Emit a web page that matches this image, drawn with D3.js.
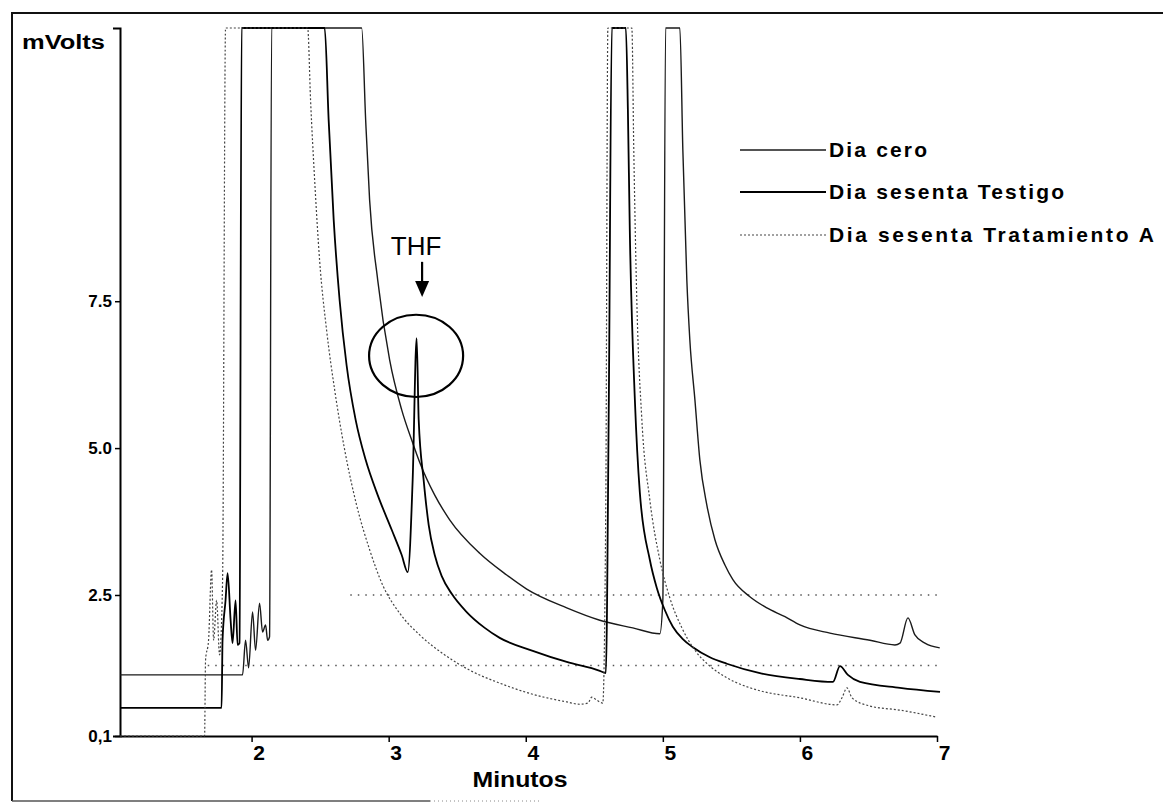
<!DOCTYPE html>
<html>
<head>
<meta charset="utf-8">
<script src="https://cdn.jsdelivr.net/npm/d3@7"></script>
<style>
  body { margin: 0; background: #fff; }
  svg { display: block; font-family: "Liberation Sans", Arial, sans-serif; }
</style>
</head>
<body>
<svg id="chart" width="1163" height="804"></svg>
<script>
// Retention time (min) and detector signal (mV) for each run.
// Off-scale solvent peaks carry values above the window and are clamped flat.
const diaCeroTime = [1.04, 1.934, 1.956, 1.978, 2.007, 2.029, 2.058, 2.080, 2.102, 2.117,
  2.131, 2.146, 2.45, 2.803, 2.832, 2.861, 2.92, 3.007, 3.095, 3.175,
  3.226, 3.336, 3.445, 3.664, 3.861, 4.007, 4.299, 4.540, 4.781, 4.978,
  5.0, 5.02, 5.07, 5.124, 5.146, 5.175, 5.197, 5.234, 5.270, 5.321,
  5.380, 5.453, 5.511, 5.635, 5.759, 5.891, 6.0, 6.219, 6.511, 6.693,
  6.73, 6.788, 6.839, 6.912, 7.02];
const diaCeroSignal = [1.14, 1.14, 1.73, 1.26, 2.21, 1.56, 2.36, 1.87, 1.99, 1.73,
  1.79, 15, 40, 12.2, 10.59, 9.22, 7.86, 6.5, 5.65, 5.09,
  4.76, 4.20, 3.78, 3.21, 2.84, 2.60, 2.28, 2.07, 1.94, 1.84,
  2.41, 15, 30, 12.2, 10.07, 7.86, 6.84, 5.82, 4.80, 4.03,
  3.44, 3.01, 2.76, 2.47, 2.28, 2.13, 1.99, 1.85, 1.73, 1.65,
  1.68, 2.11, 1.82, 1.68, 1.60];

const testigoTime = [1.04, 1.781, 1.788, 1.81, 1.825, 1.847, 1.861, 1.883, 1.898, 1.912,
  1.927, 2.2, 2.533, 2.562, 2.599, 2.642, 2.693, 2.759, 2.832, 2.920,
  3.022, 3.095, 3.139, 3.175, 3.204, 3.219, 3.255, 3.292, 3.336, 3.387,
  3.460, 3.569, 3.701, 3.810, 4.051, 4.299, 4.540, 4.584, 4.606, 4.628,
  4.68, 4.730, 4.745, 4.759, 4.796, 4.832, 4.905, 4.956, 5.015, 5.073,
  5.146, 5.219, 5.343, 5.467, 5.708, 6.0, 6.241, 6.292, 6.350, 6.438,
  6.730, 7.022];
const testigoSignal = [0.58, 0.58, 1.73, 2.41, 2.87, 2.07, 1.68, 2.41, 1.65, 1.68,
  15, 40, 12.2, 10.59, 8.88, 7.52, 6.41, 5.48, 4.80, 4.20,
  3.61, 3.18, 2.89, 4.46, 6.87, 5.48, 4.46, 3.69, 3.18, 2.82,
  2.52, 2.21, 1.94, 1.77, 1.55, 1.36, 1.21, 1.17, 5.82, 15,
  30, 12.2, 10.76, 8.70, 5.82, 4.25, 3.10, 2.62, 2.24, 1.96,
  1.75, 1.61, 1.44, 1.33, 1.17, 1.07, 1.02, 1.29, 1.14, 1.02,
  0.92, 0.85];

const tratamientoTime = [1.04, 1.657, 1.664, 1.686, 1.708, 1.723, 1.745, 1.766, 1.788, 1.810,
  2.1, 2.409, 2.430, 2.460, 2.496, 2.547, 2.606, 2.679, 2.766, 2.861,
  2.956, 3.080, 3.226, 3.409, 3.591, 3.810, 4.051, 4.299, 4.394, 4.453,
  4.482, 4.518, 4.562, 4.584, 4.599, 4.69, 4.774, 4.788, 4.810, 4.847,
  4.905, 4.978, 5.051, 5.139, 5.234, 5.343, 5.467, 5.599, 5.708, 6.0,
  6.270, 6.307, 6.343, 6.380, 6.511, 6.730, 7.0];
const tratamientoSignal = [0.1, 0.1, 1.39, 1.73, 2.93, 1.73, 2.41, 1.48, 2.70, 15,
  40, 12.2, 10.93, 9.56, 8.20, 7.01, 5.99, 4.97, 4.03, 3.27,
  2.67, 2.19, 1.82, 1.48, 1.22, 1.00, 0.81, 0.68, 0.64, 0.66,
  0.76, 0.71, 0.66, 4.12, 15, 30, 12.2, 10.07, 7.52, 5.48,
  4.12, 3.10, 2.45, 1.94, 1.56, 1.29, 1.09, 0.95, 0.87, 0.75,
  0.63, 0.75, 0.92, 0.75, 0.61, 0.54, 0.42];

const seriesNames = ["Dia cero", "Dia sesenta Testigo", "Dia sesenta Tratamiento A"];

// Axis ticks
const xTickValues = [2, 3, 4, 5, 6, 7];
const yTickValues = [0.1, 2.5, 5.0, 7.5];
const yTickLabels = ["0,1", "2.5", "5.0", "7.5"];

// Dotted reference levels (mV) and the time where each begins
const refLevels = [2.5, 1.3];
const refStart = [2.72, 1.68];

// THF peak annotation
const thfTime = 3.2;
const thfSignal = 6.87;

// ---------------------------------------------------------------
const svg = d3.select("#chart");
const FONT = "'Liberation Sans', Arial, sans-serif";

const x = d3.scaleLinear().domain([1.04, 7.0]).range([120, 937]);
const y = d3.scaleLinear().domain([0.1, 12.15]).range([736, 28]).clamp(true);

// outer frame
svg.append("path")
  .attr("d", "M12,801 V13 H1163")
  .attr("fill", "none").attr("stroke", "#111").attr("stroke-width", 2);
svg.append("line")
  .attr("x1", 12).attr("x2", 430).attr("y1", 801).attr("y2", 801)
  .attr("stroke", "#555").attr("stroke-width", 1.5);
svg.append("line")
  .attr("x1", 430).attr("x2", 540).attr("y1", 801).attr("y2", 801)
  .attr("stroke", "#888").attr("stroke-width", 1).attr("stroke-dasharray", "1,3");

// dotted reference levels
svg.append("g").selectAll("line")
  .data(refLevels)
  .join("line")
  .attr("x1", (d, i) => x(refStart[i]))
  .attr("x2", x(7))
  .attr("y1", d => y(d)).attr("y2", d => y(d))
  .attr("stroke", "#555").attr("stroke-width", 1.3)
  .attr("stroke-dasharray", "1.5,6");

// axes
const yAxis = d3.axisLeft(y)
  .tickValues(yTickValues)
  .tickFormat((d, i) => yTickLabels[i])
  .tickSize(5).tickSizeOuter(7).tickPadding(3);
const gy = svg.append("g").attr("transform", "translate(120,0)").call(yAxis);
gy.select(".domain").attr("stroke", "#000").attr("stroke-width", 2);
gy.selectAll(".tick line").attr("stroke", "#000").attr("stroke-width", 1.5);
gy.selectAll(".tick text")
  .attr("font-size", 17).attr("font-weight", "bold").attr("fill", "#000")
  .attr("font-family", FONT);

const xAxis = d3.axisBottom(x)
  .tickValues(xTickValues)
  .tickFormat(d3.format("d"))
  .tickSize(6).tickSizeOuter(0).tickPadding(3);
const gx = svg.append("g").attr("transform", "translate(0,736)").call(xAxis);
gx.select(".domain").attr("stroke", "#000").attr("stroke-width", 2);
gx.selectAll(".tick line").attr("stroke", "#000").attr("stroke-width", 1.5);
gx.selectAll(".tick text")
  .attr("dx", 7)
  .attr("font-size", 21).attr("font-weight", "bold").attr("fill", "#000")
  .attr("font-family", FONT);

// axis titles
svg.append("text")
  .attr("x", 22).attr("y", 49)
  .attr("font-size", 20).attr("font-weight", "bold")
  .attr("textLength", 83).attr("lengthAdjust", "spacingAndGlyphs")
  .text("mVolts");
svg.append("text")
  .attr("x", 520).attr("y", 787)
  .attr("text-anchor", "middle")
  .attr("font-size", 22).attr("font-weight", "bold")
  .attr("textLength", 95).attr("lengthAdjust", "spacingAndGlyphs")
  .text("Minutos");

// traces
const line = d3.line()
  .x(d => x(d[0])).y(d => y(d[1]))
  .curve(d3.curveMonotoneX);
const traces = [
  { name: seriesNames[0], pts: d3.zip(diaCeroTime, diaCeroSignal), stroke: "#1a1a1a", width: 1.4, dash: null },
  { name: seriesNames[1], pts: d3.zip(testigoTime, testigoSignal), stroke: "#000", width: 1.8, dash: null },
  { name: seriesNames[2], pts: d3.zip(tratamientoTime, tratamientoSignal), stroke: "#444", width: 1.2, dash: "2,2" }
];

svg.append("g").selectAll("path")
  .data(traces)
  .join("path")
  .attr("d", d => line(d.pts))
  .attr("fill", "none")
  .attr("stroke", d => d.stroke)
  .attr("stroke-width", d => d.width)
  .attr("stroke-dasharray", d => d.dash)
  .attr("stroke-linejoin", "round");

// THF annotation: ellipse around the peak, arrow and label
const ex = x(thfTime), ey = y(thfSignal - 0.3);
svg.append("ellipse")
  .attr("cx", ex).attr("cy", ey)
  .attr("rx", x(thfTime + 0.343) - ex)
  .attr("ry", y(thfSignal - 1.0) - ey)
  .attr("fill", "none").attr("stroke", "#000").attr("stroke-width", 2.2);

const ax = x(thfTime) + 6;
svg.append("line")
  .attr("x1", ax).attr("x2", ax)
  .attr("y1", y(thfSignal + 1.3)).attr("y2", y(thfSignal + 0.95))
  .attr("stroke", "#000").attr("stroke-width", 2.2);
const tipY = y(thfSignal + 0.7);
svg.append("path")
  .attr("d", `M${ax - 7},${tipY - 16} L${ax + 7},${tipY - 16} L${ax},${tipY} Z`)
  .attr("fill", "#000");
svg.append("text")
  .attr("x", x(thfTime)).attr("y", y(thfSignal + 1.42))
  .attr("text-anchor", "middle")
  .attr("font-size", 26)
  .text("THF");

// legend
const legendY = [150, 192, 235];
const legendWidths = [98, 235, 325];
const lg = svg.append("g").selectAll("g")
  .data(traces)
  .join("g")
  .attr("transform", (d, i) => `translate(0,${legendY[i]})`);
lg.append("line")
  .attr("x1", 740).attr("x2", 826)
  .attr("stroke", d => d.stroke)
  .attr("stroke-width", d => d.width)
  .attr("stroke-dasharray", d => d.dash);
lg.append("text")
  .attr("x", 829).attr("y", 7)
  .attr("font-size", 21).attr("font-weight", "bold")
  .attr("textLength", (d, i) => legendWidths[i])
  .attr("lengthAdjust", "spacing")
  .text(d => d.name);
</script>
</body>
</html>
